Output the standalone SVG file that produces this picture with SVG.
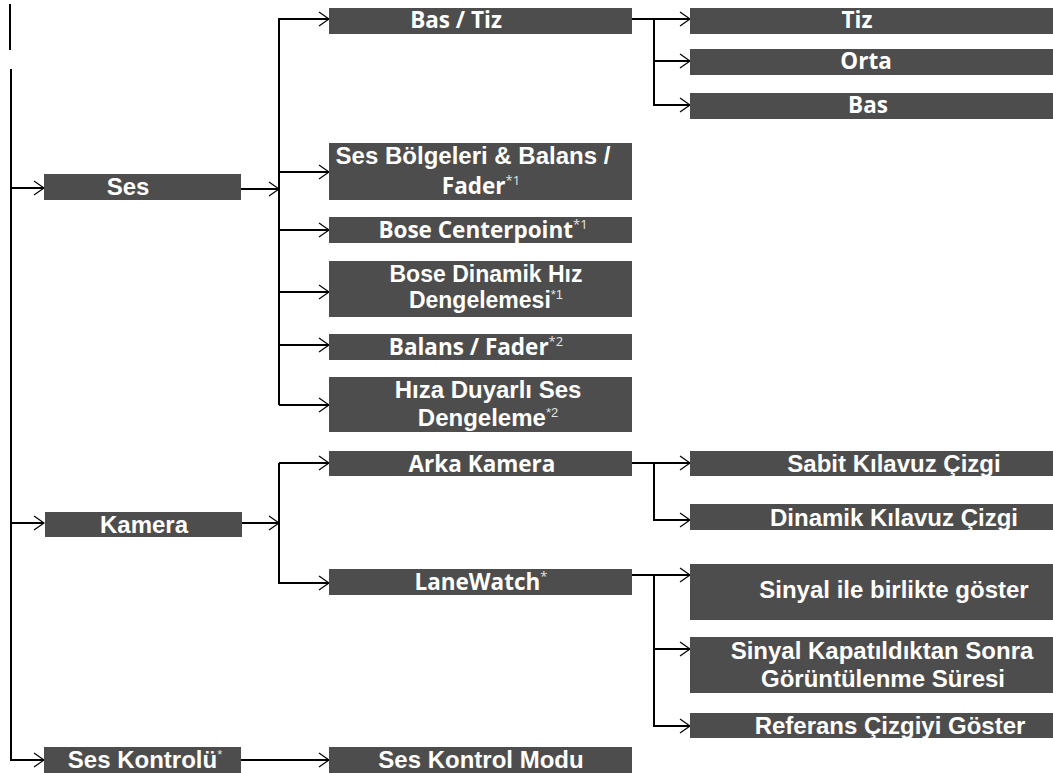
<svg xmlns="http://www.w3.org/2000/svg" width="1053" height="773" viewBox="0 0 1053 773">
<style>
.box{fill:#4d4d4d}
.a{font-family:"Liberation Sans",Arial,sans-serif;font-weight:bold;font-size:24px;fill:#fff;text-anchor:middle}
.o{font-family:"Open Sans","Liberation Sans",sans-serif;font-weight:bold;font-size:22.5px;fill:#fff;text-anchor:middle}
.sup{font-size:13px;font-weight:normal;fill:#e6e6e6}
.ln{fill:none;stroke:#000;stroke-width:2}
</style>
<defs>
<marker id="ah" markerUnits="userSpaceOnUse" markerWidth="14" markerHeight="18" viewBox="-12 -9 14 18" refX="0" refY="0" orient="auto">
<path d="M-10,-7 L0,0 L-10,7" fill="none" stroke="#000" stroke-width="1.2"/>
</marker>
</defs>
<g id="connectors">
<path class="ln" d="M10,4 V50" stroke-width="1.5"/>
<path class="ln" d="M11,69 V760 H44" marker-end="url(#ah)"/>
<path class="ln" d="M11,188 H44" marker-end="url(#ah)"/>
<path class="ln" d="M11,523 H44" marker-end="url(#ah)"/>
<path class="ln" d="M241,189 H279" marker-end="url(#ah)"/>
<path class="ln" d="M279,405 V19 H329" marker-end="url(#ah)"/>
<path class="ln" d="M279,172 H329" marker-end="url(#ah)"/>
<path class="ln" d="M279,230 H329" marker-end="url(#ah)"/>
<path class="ln" d="M279,292 H329" marker-end="url(#ah)"/>
<path class="ln" d="M279,345 H329" marker-end="url(#ah)"/>
<path class="ln" d="M279,405 H329" marker-end="url(#ah)"/>
<path class="ln" d="M632,19 H690" marker-end="url(#ah)"/>
<path class="ln" d="M654,19 V105 H690" marker-end="url(#ah)"/>
<path class="ln" d="M654,61 H690" marker-end="url(#ah)"/>
<path class="ln" d="M242,523 H279" marker-end="url(#ah)"/>
<path class="ln" d="M279,463 V583 H329" marker-end="url(#ah)"/>
<path class="ln" d="M279,463 H329" marker-end="url(#ah)"/>
<path class="ln" d="M632,463 H690" marker-end="url(#ah)"/>
<path class="ln" d="M654,463 V520 H690" marker-end="url(#ah)"/>
<path class="ln" d="M632,575 H690" marker-end="url(#ah)"/>
<path class="ln" d="M654,575 V726 H690" marker-end="url(#ah)"/>
<path class="ln" d="M654,649 H690" marker-end="url(#ah)"/>
<path class="ln" d="M241,760 H329" marker-end="url(#ah)"/>
</g>
<g id="ses"><rect class="box" x="44" y="174" width="197" height="26"/><text class="a" x="128" y="195">Ses</text></g>
<g id="bas-tiz"><rect class="box" x="329" y="8" width="303" height="26"/><text class="o" x="456" y="28">Bas / Tiz</text></g>
<g id="tiz"><rect class="box" x="690" y="8" width="363" height="26"/><text class="o" x="857" y="28">Tiz</text></g>
<g id="orta"><rect class="box" x="690" y="49" width="363" height="26"/><text class="o" x="866" y="69">Orta</text></g>
<g id="bas"><rect class="box" x="690" y="93" width="363" height="26"/><text class="o" x="868" y="113">Bas</text></g>
<g id="ses-bolgeleri"><rect class="box" x="329" y="143" width="303" height="57"/><text class="a" x="473" y="164">Ses Bölgeleri &amp; Balans /</text><text class="o" x="481" y="194">Fader<tspan class="sup" dy="-9">*1</tspan></text></g>
<g id="bose-centerpoint"><rect class="box" x="329" y="217" width="303" height="26"/><text class="o" x="483" y="238">Bose Centerpoint<tspan class="sup" dy="-9">*1</tspan></text></g>
<g id="bose-dinamik"><rect class="box" x="329" y="261" width="303" height="56"/><text class="a" x="486" y="282" style="font-size:23px">Bose Dinamik Hız</text><text class="a" x="486" y="308" style="font-size:23px">Dengelemesi<tspan class="sup" dy="-9">*1</tspan></text></g>
<g id="balans-fader"><rect class="box" x="329" y="334" width="303" height="26"/><text class="o" x="476" y="355">Balans / Fader<tspan class="sup" dy="-9">*2</tspan></text></g>
<g id="hiza-duyarli"><rect class="box" x="329" y="377" width="303" height="55"/><text class="a" x="488" y="398">Hıza Duyarlı Ses</text><text class="a" x="488" y="426">Dengeleme<tspan class="sup" dy="-9">*2</tspan></text></g>
<g id="kamera"><rect class="box" x="45" y="512" width="197" height="25"/><text class="a" x="144" y="533">Kamera</text></g>
<g id="arka-kamera"><rect class="box" x="329" y="451" width="303" height="25"/><text class="o" x="482" y="472">Arka Kamera</text></g>
<g id="sabit"><rect class="box" x="690" y="451" width="363" height="25"/><text class="a" x="894" y="472">Sabit Kılavuz Çizgi</text></g>
<g id="dinamik"><rect class="box" x="690" y="504" width="363" height="26"/><text class="a" x="894" y="526">Dinamik Kılavuz Çizgi</text></g>
<g id="lanewatch"><rect class="box" x="329" y="569" width="303" height="26"/><text class="o" x="481" y="590">LaneWatch<tspan class="sup" dy="-9">*</tspan></text></g>
<g id="sinyal-ile"><rect class="box" x="690" y="564" width="363" height="56"/><text class="a" x="894" y="598">Sinyal ile birlikte göster</text></g>
<g id="sinyal-kapatildiktan"><rect class="box" x="690" y="637" width="363" height="56"/><text class="a" x="882" y="659">Sinyal Kapatıldıktan Sonra</text><text class="a" x="883" y="687">Görüntülenme Süresi</text></g>
<g id="referans"><rect class="box" x="690" y="713" width="363" height="25"/><text class="a" x="890" y="734">Referans Çizgiyi Göster</text></g>
<g id="ses-kontrolu"><rect class="box" x="44" y="747" width="197" height="26"/><text class="a" x="145" y="768">Ses Kontrolü<tspan class="sup" dy="-9">*</tspan></text></g>
<g id="ses-kontrol-modu"><rect class="box" x="329" y="747" width="303" height="26"/><text class="a" x="481" y="768">Ses Kontrol Modu</text></g>
</svg>
